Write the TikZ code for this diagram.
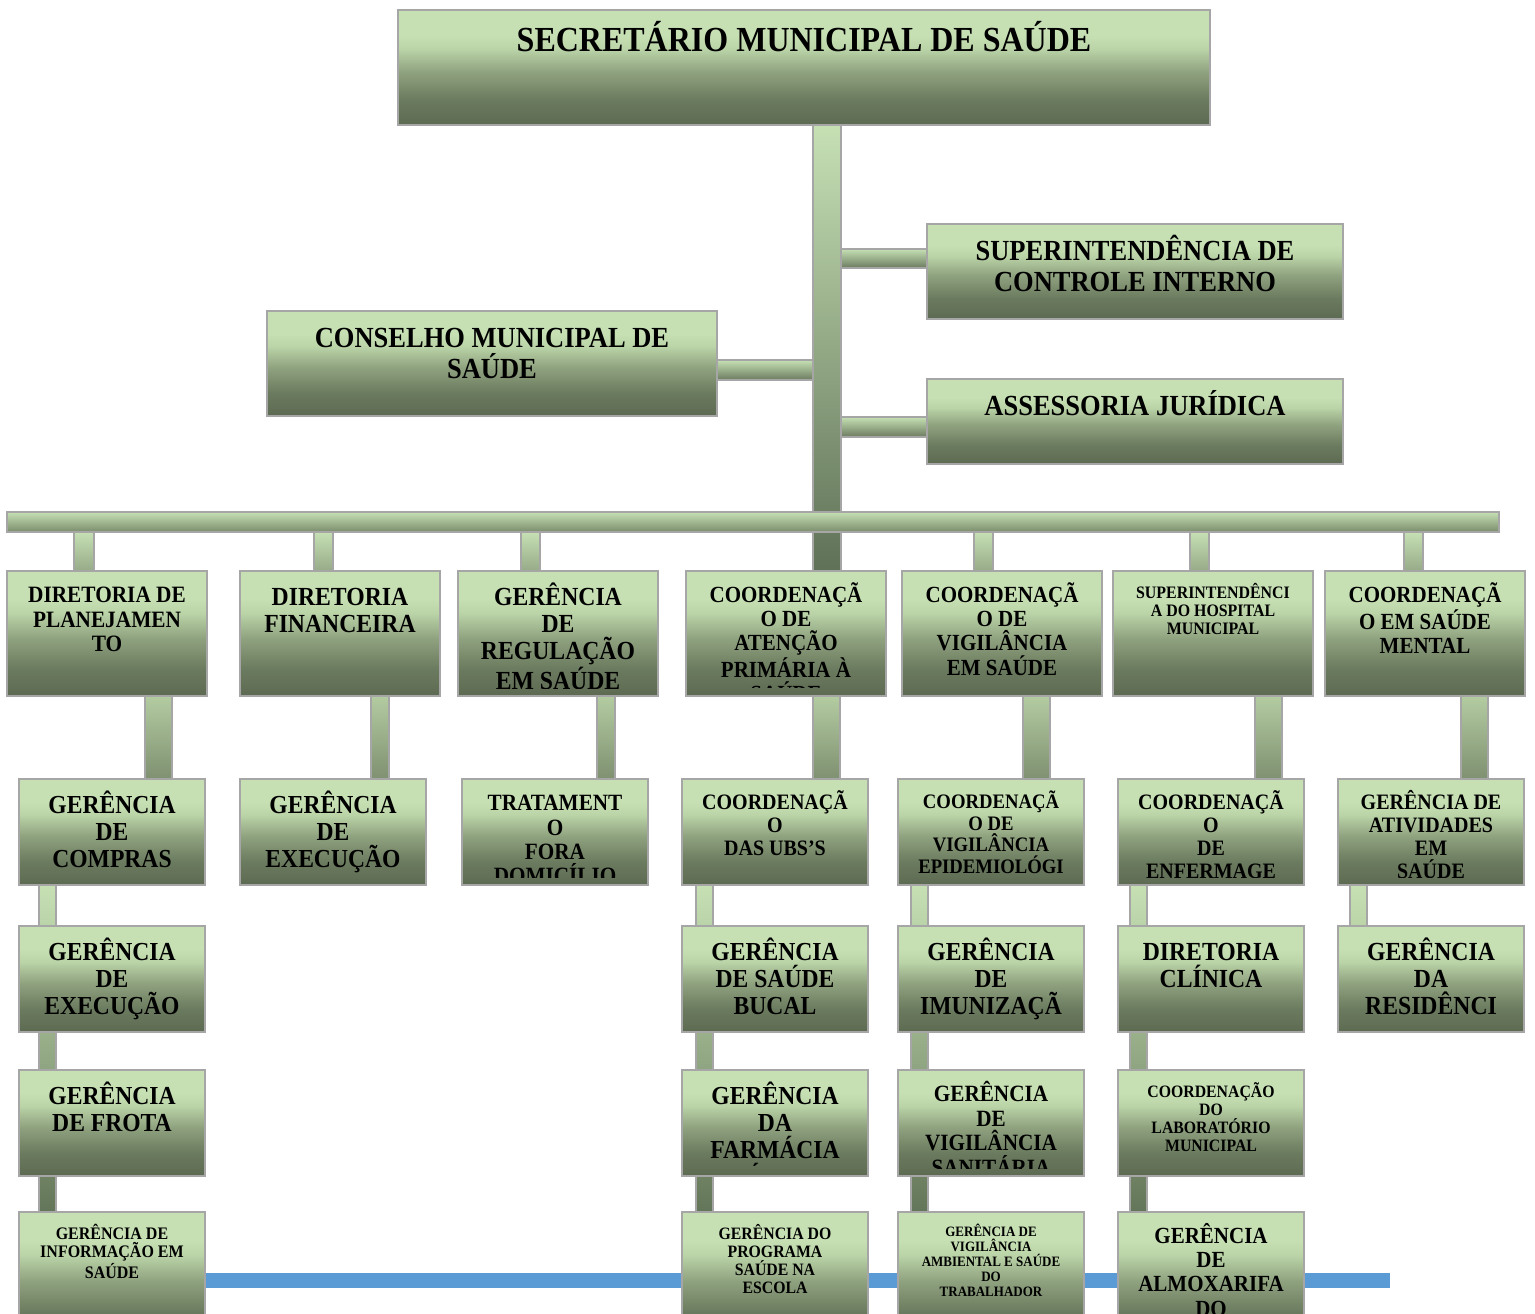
\documentclass[tikz,border=0pt]{standalone}
\usepackage{fontspec}
\usepackage{graphicx}
\setmainfont{Liberation Serif}
\definecolor{cA}{HTML}{C6E0B4}
\definecolor{cB}{HTML}{BAD3A7}
\definecolor{cC}{HTML}{8FA27F}
\definecolor{cD}{HTML}{6B7B5F}
\definecolor{cE}{HTML}{5D6A52}
\definecolor{bordc}{HTML}{A6A6A6}
\definecolor{blueln}{HTML}{5B9BD5}
\definecolor{trmid}{HTML}{ACC29B}
\definecolor{trbot}{HTML}{5F7157}
\definecolor{busbot}{HTML}{7A8C6C}
\definecolor{vbbot}{HTML}{97AB88}
\definecolor{rctop}{HTML}{B3CBA1}
\definecolor{rcbot}{HTML}{7F9171}
\definecolor{chmid}{HTML}{9CAF8C}
\definecolor{chbot}{HTML}{647659}
\definecolor{shbot}{HTML}{BBD4A8}
\pgfdeclareverticalshading{boxsh}{100bp}{color(0bp)=(cE); color(25bp)=(cE); color(36bp)=(cD); color(48bp)=(cC); color(58bp)=(cB); color(64bp)=(cA); color(100bp)=(cA)}
\pgfdeclarelayer{bg}
\pgfsetlayers{bg,main}
\newcommand\lns[1]{\scalebox{1}[1.1]{\vtop{\halign{\hfil##\hfil\cr#1\crcr}}}}
\newcommand\bx[8][8]{%
  \pgfmathsetmacro\bxcx{(#3+#5)/2}%
  \pgfmathsetmacro\bxcy{-(#4+#6)/2}%
  \pgfmathsetmacro\bxw{(#5-#3)/2}%
  \pgfmathsetmacro\bxh{(#6-#4)/2}%
  \pgfmathsetmacro\bxfs{#7/2}%
  \pgfmathsetmacro\bxbs{#7*1.045/2}%
  \pgfmathsetmacro\bxby{-(#4+13+0.89*#7)}%
  \node[box, minimum width=\bxw pt, minimum height=\bxh pt] (#2) at (\bxcx,\bxcy) {};
  \begin{scope}
    \clip (#3+2,-#4-2) rectangle (#5-2,-#6+#1);
    \node[anchor=base, inner sep=0pt, font=\fontsize{\bxfs pt}{\bxbs pt}\selectfont\bfseries] at (\bxcx,\bxby) {\lns{#8}};
  \end{scope}}
\tikzset{
  box/.style={rectangle, shade, shading=boxsh, draw=bordc, line width=0.75pt, inner sep=0pt},
  bar/.style={draw=bordc, line width=0.6pt},
  vbar/.style={bar, top color=cA, bottom color=vbbot},
  rbar/.style={bar, top color=rctop, bottom color=rcbot},
  cbar/.style={bar, top color=cA, middle color=chmid, bottom color=chbot},
  hbar/.style={bar, top color=cA, bottom color=cD},
}
\begin{document}
\begin{tikzpicture}[x=0.5pt,y=0.5pt]
\useasboundingbox (0,0) rectangle (1535,-1313);
% top level
\bx{sec}{398}{10}{1210}{125}{32}{SECRETÁRIO MUNICIPAL DE SAÚDE}
\bx{sci}{927}{224}{1343}{319}{26.5}{SUPERINTENDÊNCIA DE\cr CONTROLE INTERNO}
\bx{cms}{267}{311}{717}{416}{26.5}{CONSELHO MUNICIPAL DE\cr SAÚDE}
\bx{aj}{927}{379}{1343}{464}{26.5}{ASSESSORIA JURÍDICA}
% row 1
\bx{p1}{7}{571}{207}{696}{21.3}{DIRETORIA DE\cr PLANEJAMEN\cr TO}
\bx{p2}{240}{571}{440}{696}{23.7}{DIRETORIA\cr FINANCEIRA}
\bx{p3}{458}{571}{658}{696}{23.7}{GERÊNCIA\cr DE\cr REGULAÇÃO\cr EM SAÚDE}
\bx[9]{p4}{686}{571}{886}{696}{21}{COORDENAÇÃ\cr O DE\cr ATENÇÃO\cr PRIMÁRIA À\cr SAÚDE}
\bx{p5}{902}{571}{1102}{696}{21}{COORDENAÇÃ\cr O DE\cr VIGILÂNCIA\cr EM SAÚDE}
\bx{p6}{1113}{571}{1313}{696}{15.9}{SUPERINTENDÊNCI\cr A DO HOSPITAL\cr MUNICIPAL}
\bx{p7}{1325}{571}{1525}{696}{21}{COORDENAÇÃ\cr O EM SAÚDE\cr MENTAL}
% row 2
\bx{q1}{19}{779}{205}{885}{23.6}{GERÊNCIA\cr DE\cr COMPRAS}
\bx{q2}{240}{779}{426}{885}{23.6}{GERÊNCIA\cr DE\cr EXECUÇÃO}
\bx{q3}{462}{779}{648}{885}{21.2}{TRATAMENT\cr O\cr FORA\cr DOMICÍLIO}
\bx{q4}{682}{779}{868}{885}{20}{COORDENAÇÃ\cr O\cr DAS UBS’S}
\bx{q5}{898}{779}{1084}{885}{18.7}{COORDENAÇÃ\cr O DE\cr VIGILÂNCIA\cr EPIDEMIOLÓGI}
\bx{q6}{1118}{779}{1304}{885}{20}{COORDENAÇÃ\cr O\cr DE\cr ENFERMAGE}
\bx{q7}{1338}{779}{1524}{885}{20}{GERÊNCIA DE\cr ATIVIDADES\cr EM\cr SAÚDE}
% row 3
\bx{r1}{19}{926}{205}{1032}{23.6}{GERÊNCIA\cr DE\cr EXECUÇÃO}
\bx{r4}{682}{926}{868}{1032}{23.6}{GERÊNCIA\cr DE SAÚDE\cr BUCAL}
\bx{r5}{898}{926}{1084}{1032}{23.6}{GERÊNCIA\cr DE\cr IMUNIZAÇÃ}
\bx{r6}{1118}{926}{1304}{1032}{23.7}{DIRETORIA\cr CLÍNICA}
\bx{r7}{1338}{926}{1524}{1032}{23.7}{GERÊNCIA\cr DA\cr RESIDÊNCI}
% row 4
\bx{s1}{19}{1070}{205}{1176}{23.6}{GERÊNCIA\cr DE FROTA}
\bx[11]{s4}{682}{1070}{868}{1176}{23.6}{GERÊNCIA\cr DA\cr FARMÁCIA\cr BÁSICA}
\bx{s5}{898}{1070}{1084}{1176}{21.2}{GERÊNCIA\cr DE\cr VIGILÂNCIA\cr SANITÁRIA}
\bx{s6}{1118}{1070}{1304}{1176}{15.8}{COORDENAÇÃO\cr DO\cr LABORATÓRIO\cr MUNICIPAL}
% row 5
\bx{t1}{19}{1212}{205}{1340}{16}{GERÊNCIA DE\cr INFORMAÇÃO EM\cr SAÚDE}
\bx{t4}{682}{1212}{868}{1340}{15.8}{GERÊNCIA DO\cr PROGRAMA\cr SAÚDE NA\cr ESCOLA}
\bx{t5}{898}{1212}{1084}{1340}{13}{GERÊNCIA DE\cr VIGILÂNCIA\cr AMBIENTAL E SAÚDE\cr DO\cr TRABALHADOR}
\bx{t6}{1118}{1212}{1304}{1340}{21}{GERÊNCIA\cr DE\cr ALMOXARIFA\cr DO}

\begin{pgfonlayer}{bg}
  % blue line
  \fill[blueln] (t1.east |- 0,-1273) rectangle (1390,-1288);
  % trunk
  \coordinate (trL) at (813,0 |- sec.south);
  \coordinate (trR) at (841,0 |- p4.north);
  \shade[bar, top color=cA, middle color=trmid, bottom color=trbot] (trL) rectangle (trR);
  % side connectors
  \shade[hbar] (841,-249) rectangle (sci.west |- 0,-268);
  \shade[hbar] (cms.east |- 0,-360) rectangle (813,-380);
  \shade[hbar] (841,-417) rectangle (aj.west |- 0,-437);
  % bus
  \coordinate (busL) at (7,-512);
  \coordinate (busR) at (1499,-532);
  \shade[bar, top color=cA, bottom color=busbot] (busL) rectangle (busR);
  % bus to row 1
  \shade[vbar] (74,0 |- busR) rectangle (94,0 |- p1.north);
  \shade[vbar] (314,0 |- busR) rectangle (333,0 |- p2.north);
  \shade[vbar] (521,0 |- busR) rectangle (540,0 |- p3.north);
  \shade[vbar] (974,0 |- busR) rectangle (993,0 |- p5.north);
  \shade[vbar] (1190,0 |- busR) rectangle (1209,0 |- p6.north);
  \shade[vbar] (1404,0 |- busR) rectangle (1423,0 |- p7.north);
  % row 1 to row 2
  \shade[rbar] (145,0 |- p1.south) rectangle (172,0 |- q1.north);
  \shade[rbar] (371,0 |- p2.south) rectangle (389,0 |- q2.north);
  \shade[rbar] (597,0 |- p3.south) rectangle (615,0 |- q3.north);
  \shade[rbar] (813,0 |- p4.south) rectangle (840,0 |- q4.north);
  \shade[rbar] (1023,0 |- p5.south) rectangle (1050,0 |- q5.north);
  \shade[rbar] (1255,0 |- p6.south) rectangle (1282,0 |- q6.north);
  \shade[rbar] (1461,0 |- p7.south) rectangle (1488,0 |- q7.north);
  % vertical chains
  \shade[cbar] (39,0 |- q1.south) rectangle (56,0 |- t1.north);
  \shade[cbar] (696,0 |- q4.south) rectangle (713,0 |- t4.north);
  \shade[cbar] (911,0 |- q5.south) rectangle (928,0 |- t5.north);
  \shade[cbar] (1130,0 |- q6.south) rectangle (1147,0 |- t6.north);
  \shade[bar, top color=cA, bottom color=shbot] (1350,0 |- q7.south) rectangle (1367,0 |- r7.north);
\end{pgfonlayer}
\end{tikzpicture}
\end{document}
